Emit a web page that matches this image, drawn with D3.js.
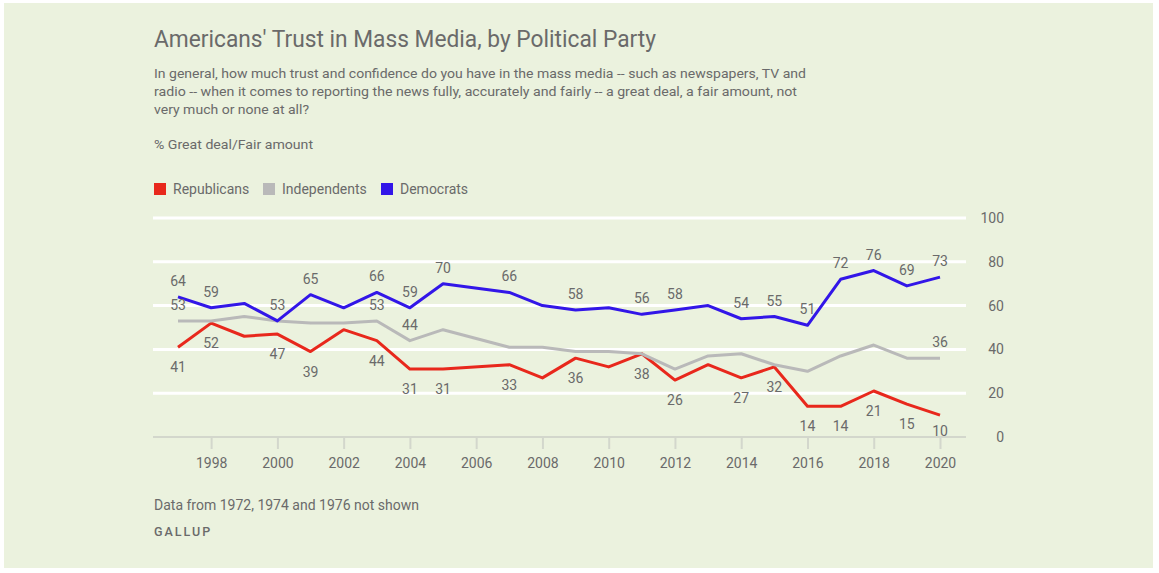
<!DOCTYPE html>
<html>
<head>
<meta charset="utf-8">
<script src="https://cdn.jsdelivr.net/npm/d3@7"></script>
<style>
  body { margin: 0; background: #fff; }
  svg text { font-family: Roboto, "Noto Sans", sans-serif; }
</style>
</head>
<body>
<svg id="chart" width="1159" height="573"></svg>
<script>
var years = [1997, 1998, 1999, 2000, 2001, 2002, 2003, 2004, 2005, 2007, 2008, 2009,
             2010, 2011, 2012, 2013, 2014, 2015, 2016, 2017, 2018, 2019, 2020];
var republicans = [41, 52, 46, 47, 39, 49, 44, 31, 31, 33, 27, 36,
                   32, 38, 26, 33, 27, 32, 14, 14, 21, 15, 10];
var independents = [53, 53, 55, 53, 52, 52, 53, 44, 49, 41, 41, 39,
                    39, 38, 31, 37, 38, 33, 30, 37, 42, 36, 36];
var democrats = [64, 59, 61, 53, 65, 59, 66, 59, 70, 66, 60, 58,
                 59, 56, 58, 60, 54, 55, 51, 72, 76, 69, 73];

// years that carry a value label
var repLabelYears = [1997, 1998, 2000, 2001, 2003, 2004, 2005, 2007, 2009, 2011, 2012,
                     2014, 2015, 2016, 2017, 2018, 2019, 2020];
var indLabelYears = [1997, 2003, 2004, 2020];
var demLabelYears = [1997, 1998, 2000, 2001, 2003, 2004, 2005, 2007, 2009, 2011, 2012,
                     2014, 2015, 2016, 2017, 2018, 2019, 2020];

var xTicks = [1998, 2000, 2002, 2004, 2006, 2008, 2010, 2012, 2014, 2016, 2018, 2020];
var yTicks = [0, 20, 40, 60, 80, 100];

var seriesNames = ["Republicans", "Independents", "Democrats"];
var seriesColors = ["#e8281c", "#b9b9b9", "#3216e8"];

var title = "Americans' Trust in Mass Media, by Political Party";
var subtitle = [
  "In general, how much trust and confidence do you have in the mass media -- such as newspapers, TV and",
  "radio -- when it comes to reporting the news fully, accurately and fairly -- a great deal, a fair amount, not",
  "very much or none at all?"
];
var unitNote = "% Great deal/Fair amount";
var footNote = "Data from 1972, 1974 and 1976 not shown";
var source = "GALLUP";

var svg = d3.select("#chart");
var textColor = "#6a6a6a";

svg.append("rect")
  .attr("x", 4).attr("y", 3)
  .attr("width", 1149).attr("height", 565)
  .style("fill", "#ebf2de");

svg.append("text")
  .attr("x", 154).attr("y", 47)
  .attr("textLength", 502).attr("lengthAdjust", "spacingAndGlyphs")
  .style("font-size", "23px")
  .style("fill", textColor)
  .text(title);

var subWidths = [652, 643, 155];
svg.selectAll(".sub")
  .data(subtitle)
  .enter().append("text")
  .attr("class", "sub")
  .attr("x", 154)
  .attr("y", function(d, i) { return 78 + i * 18; })
  .attr("textLength", function(d, i) { return subWidths[i]; })
  .attr("lengthAdjust", "spacingAndGlyphs")
  .style("font-size", "13px")
  .style("fill", textColor)
  .text(function(d) { return d; });

svg.append("text")
  .attr("x", 154).attr("y", 149)
  .attr("textLength", 159).attr("lengthAdjust", "spacingAndGlyphs")
  .style("font-size", "13px")
  .style("fill", textColor)
  .text(unitNote);

// legend
var legendX = [154, 263, 381];
var legend = svg.selectAll(".legend")
  .data(seriesNames)
  .enter().append("g")
  .attr("class", "legend")
  .attr("transform", function(d, i) { return "translate(" + legendX[i] + ",183)"; });
legend.append("rect")
  .attr("width", 12).attr("height", 12)
  .style("fill", function(d, i) { return seriesColors[i]; });
legend.append("text")
  .attr("x", 19).attr("y", 11)
  .style("font-size", "14px")
  .style("fill", textColor)
  .text(function(d) { return d; });

// scales
var xScale = d3.scaleLinear().domain([1997, 2020]).range([178, 940]);
var yScale = d3.scaleLinear().domain([0, 100]).range([437, 218]);

// gridlines
svg.selectAll(".grid")
  .data(yTicks.filter(function(d) { return d > 0; }))
  .enter().append("line")
  .attr("class", "grid")
  .attr("x1", 153).attr("x2", 966)
  .attr("y1", function(d) { return yScale(d); })
  .attr("y2", function(d) { return yScale(d); })
  .style("stroke", "#ffffff")
  .style("stroke-width", 3);

// y axis on the right
var yAxis = svg.append("g")
  .attr("transform", "translate(1004,0)")
  .call(d3.axisRight(yScale).tickValues(yTicks).tickSize(0).tickPadding(0));
yAxis.select(".domain").remove();
yAxis.selectAll("text")
  .attr("text-anchor", "end")
  .style("font-size", "14px")
  .style("font-family", "Roboto, sans-serif")
  .style("fill", textColor);

// x axis
svg.append("line")
  .attr("x1", 153).attr("x2", 966)
  .attr("y1", yScale(0)).attr("y2", yScale(0))
  .style("stroke", "#d3d7cc")
  .style("stroke-width", 2);
var xAxis = svg.append("g")
  .attr("transform", "translate(0," + yScale(0) + ")")
  .call(d3.axisBottom(xScale).tickValues(xTicks).tickFormat(d3.format("d"))
        .tickSize(12).tickPadding(9));
xAxis.select(".domain").remove();
xAxis.selectAll("line").style("stroke", "#d3d7cc").style("stroke-width", 2);
xAxis.selectAll("text")
  .style("font-size", "14px")
  .style("font-family", "Roboto, sans-serif")
  .style("fill", textColor);

// lines
var seriesValues = [republicans, independents, democrats];
var labelYears = [repLabelYears, indLabelYears, demLabelYears];
var labelOffsets = [25, -11, -11];

var line = d3.line()
  .x(function(d) { return xScale(d.year); })
  .y(function(d) { return yScale(d.value); });

seriesValues.forEach(function(values, s) {
  var pts = years.map(function(y, i) { return { year: y, value: values[i] }; });
  svg.append("path")
    .datum(pts)
    .attr("d", line)
    .style("fill", "none")
    .style("stroke", seriesColors[s])
    .style("stroke-width", 3)
    .style("stroke-linejoin", "round");
});

// value labels (kept above the baseline)
seriesValues.forEach(function(values, s) {
  var pts = years.map(function(y, i) { return { year: y, value: values[i] }; })
    .filter(function(d) { return labelYears[s].indexOf(d.year) >= 0; });
  svg.selectAll(".lbl" + s)
    .data(pts)
    .enter().append("text")
    .attr("class", "lbl" + s)
    .attr("x", function(d) { return xScale(d.year); })
    .attr("y", function(d) { return Math.min(yScale(d.value) + labelOffsets[s], yScale(0) - 1); })
    .attr("text-anchor", "middle")
    .style("font-size", "14px")
    .style("fill", textColor)
    .text(function(d) { return d.value; });
});

// footer
svg.append("text")
  .attr("x", 154).attr("y", 510)
  .style("font-size", "14px")
  .style("fill", textColor)
  .text(footNote);
svg.append("text")
  .attr("x", 154).attr("y", 536)
  .style("font-size", "12.5px")
  .style("letter-spacing", "2px")
  .style("font-weight", "500")
  .style("fill", textColor)
  .text(source);
</script>
</body>
</html>
